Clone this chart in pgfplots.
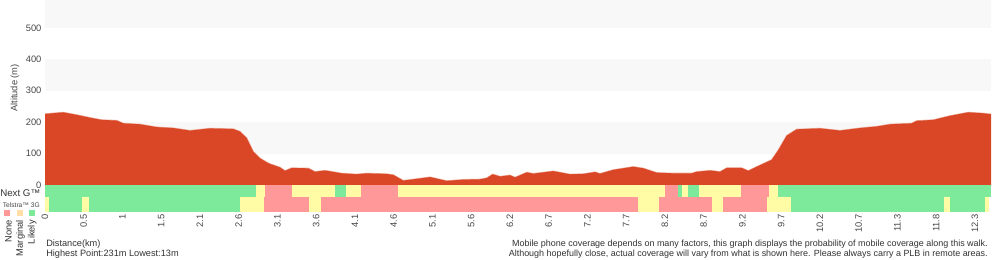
\documentclass[border=0pt]{standalone}
\usepackage{fontspec}
\setmainfont{Liberation Sans}
\usepackage{pgfplots}
\usepackage{pgfplotstable}
\pgfplotsset{compat=1.18}

\definecolor{elev}{RGB}{217,71,38}
\definecolor{elevedge}{RGB}{238,170,155}
\definecolor{band}{RGB}{248,248,248}
\definecolor{cgreen}{RGB}{125,234,155}
\definecolor{cyellow}{RGB}{255,252,165}
\definecolor{cpink}{RGB}{255,153,153}
\definecolor{lgorange}{RGB}{255,222,168}
\definecolor{txt}{RGB}{70,70,70}
\definecolor{txtd}{RGB}{50,50,50}

\pgfplotstableread{
km alt
0.000 226
0.242 231
0.419 223
0.595 214
0.750 207
0.948 205
1.036 196
1.257 193
1.478 184
1.697 181
1.918 173
2.183 180
2.491 178
2.579 170
2.668 149
2.755 106
2.844 85
2.933 72
2.976 67
3.108 56
3.175 45
3.263 54
3.483 53
3.571 42
3.704 46
3.925 37
4.123 34
4.255 37
4.520 35
4.607 32
4.739 14
4.872 18
5.093 25
5.313 13
5.533 17
5.754 18
5.843 22
5.922 34
6.019 27
6.151 31
6.217 24
6.372 40
6.459 36
6.724 44
6.944 34
7.120 35
7.275 41
7.341 36
7.517 48
7.782 58
7.914 53
8.091 39
8.311 37
8.554 37
8.620 42
8.796 46
8.929 42
9.017 54
9.216 54
9.303 45
9.414 58
9.612 80
9.700 111
9.811 157
9.943 177
10.251 180
10.516 173
10.780 181
11.001 186
11.177 193
11.464 196
11.530 204
11.750 207
11.971 220
12.213 231
12.411 228
12.513 225
}\profile

\newcommand\nextgseg[3]{\addplot[fill=#1,draw=none,forget plot] coordinates {(#2,-38.2) (#3,-38.2) (#3,0) (#2,0)} -- cycle;}
\newcommand\threegseg[3]{\addplot[fill=#1,draw=none,forget plot] coordinates {(#2,-86) (#3,-86) (#3,-38.2) (#2,-38.2)} -- cycle;}
\newcommand\bandrow[2]{\addplot[fill=band,draw=none,forget plot] coordinates {(0,#1) (12.513,#1) (12.513,#2) (0,#2)} -- cycle;}

\begin{document}
\begin{tikzpicture}
\begin{axis}[
  at={(33.75pt,36pt)}, anchor=south west,
  scale only axis, width=709.5pt, height=159pt,
  xmin=0, xmax=12.513, ymin=-86, ymax=588.6,
  axis line style={draw=none}, tick style={draw=none},
  ytick={0,100,200,300,400,500},
  xtick={0,0.5125,1.025,1.5375,2.05,2.5625,3.075,3.5875,4.1,4.6125,5.125,5.6375,6.15,6.6625,7.175,7.6875,8.2,8.7125,9.225,9.7375,10.25,10.7625,11.275,11.7875,12.3},
  xticklabels={0,0.5,1,1.5,2.1,2.6,3.1,3.6,4.1,4.6,5.1,5.6,6.2,6.7,7.2,7.7,8.2,8.7,9.2,9.7,10.2,10.7,11.3,11.8,12.3},
  xticklabel style={rotate=90, anchor=east, font=\fontsize{7}{8}\selectfont, text=txt, inner sep=1.5pt},
  yticklabel style={font=\fontsize{7}{8}\selectfont, text=txt, inner sep=2.5pt},
  /pgf/number format/assume math mode=true,
]
\bandrow{100}{200}
\bandrow{300}{400}
\bandrow{500}{600}
\addplot[draw=elevedge, line width=0.9pt, forget plot] table[x=km,y=alt] {\profile};
\addplot[fill=elev, draw=none, forget plot] table[x=km,y=alt] {\profile} \closedcycle;
% Next G row
\nextgseg{cgreen}{0}{2.791}
\nextgseg{cyellow}{2.791}{2.910}
\nextgseg{cpink}{2.910}{3.263}
\nextgseg{cyellow}{3.263}{3.836}
\nextgseg{cgreen}{3.836}{3.981}
\nextgseg{cyellow}{3.981}{4.180}
\nextgseg{cpink}{4.180}{4.673}
\nextgseg{cyellow}{4.673}{8.201}
\nextgseg{cpink}{8.201}{8.369}
\nextgseg{cgreen}{8.369}{8.426}
\nextgseg{cyellow}{8.426}{8.505}
\nextgseg{cgreen}{8.505}{8.651}
\nextgseg{cyellow}{8.651}{9.206}
\nextgseg{cpink}{9.206}{9.577}
\nextgseg{cyellow}{9.577}{9.696}
\nextgseg{cgreen}{9.696}{12.513}
% Telstra 3G row
\threegseg{cyellow}{0}{0.053}
\threegseg{cgreen}{0.053}{0.489}
\threegseg{cyellow}{0.489}{0.582}
\threegseg{cgreen}{0.582}{2.579}
\threegseg{cyellow}{2.579}{2.897}
\threegseg{cpink}{2.897}{3.492}
\threegseg{cyellow}{3.492}{3.651}
\threegseg{cpink}{3.651}{7.844}
\threegseg{cyellow}{7.844}{8.122}
\threegseg{cpink}{8.122}{8.823}
\threegseg{cyellow}{8.823}{8.968}
\threegseg{cpink}{8.968}{9.546}
\threegseg{cyellow}{9.546}{9.868}
\threegseg{cgreen}{9.868}{11.892}
\threegseg{cyellow}{11.892}{11.971}
\threegseg{cgreen}{11.971}{12.434}
\threegseg{cyellow}{12.434}{12.487}
\end{axis}

\node[rotate=90, inner sep=0, font=\fontsize{7}{8}\selectfont, text=txt] at (11.25pt,129pt) {Altitude (m)};
\node[anchor=west, inner sep=0, font=\fontsize{7.3}{8}\selectfont, text=txtd] at (0pt,50.2pt) {Next G™};
\node[inner sep=0, font=\fontsize{5}{6}\selectfont, text=txt] at (16pt,41.25pt) {Telstra™ 3G};
\fill[cpink] (3pt,33pt) rectangle (7.5pt,37.5pt);
\fill[lgorange] (12.75pt,33pt) rectangle (17.25pt,37.5pt);
\fill[cgreen] (21.75pt,33pt) rectangle (26.25pt,37.5pt);
\node[rotate=90, anchor=east, inner sep=0, font=\fontsize{7}{8}\selectfont, text=txtd] at (6.4pt,30pt) {None};
\node[rotate=90, anchor=east, inner sep=0, font=\fontsize{7}{8}\selectfont, text=txtd] at (15.4pt,30pt) {Marginal};
\node[rotate=90, anchor=east, inner sep=0, font=\fontsize{7}{8}\selectfont, text=txtd] at (24.2pt,30pt) {Likely};
\node[anchor=base west, inner sep=0, font=\fontsize{6.9}{8}\selectfont, text=txtd] at (34.5pt,10.1pt) {Distance(km)};
\node[anchor=base west, inner sep=0, font=\fontsize{6.9}{8}\selectfont, text=txtd] at (34.5pt,2.6pt) {Highest Point:231m Lowest:13m};
\node[anchor=base east, inner sep=0, font=\fontsize{6.72}{8}\selectfont, text=txtd] at (741pt,10.1pt) {Mobile phone coverage depends on many factors, this graph displays the probability of mobile coverage along this walk.};
\node[anchor=base east, inner sep=0, font=\fontsize{6.72}{8}\selectfont, text=txtd] at (741pt,2.6pt) {Although hopefully close, actual coverage will vary from what is shown here. Please always carry a PLB in remote areas.};
\pgfresetboundingbox
\path[use as bounding box] (0pt,0pt) rectangle (750pt,195pt);
\end{tikzpicture}
\end{document}
